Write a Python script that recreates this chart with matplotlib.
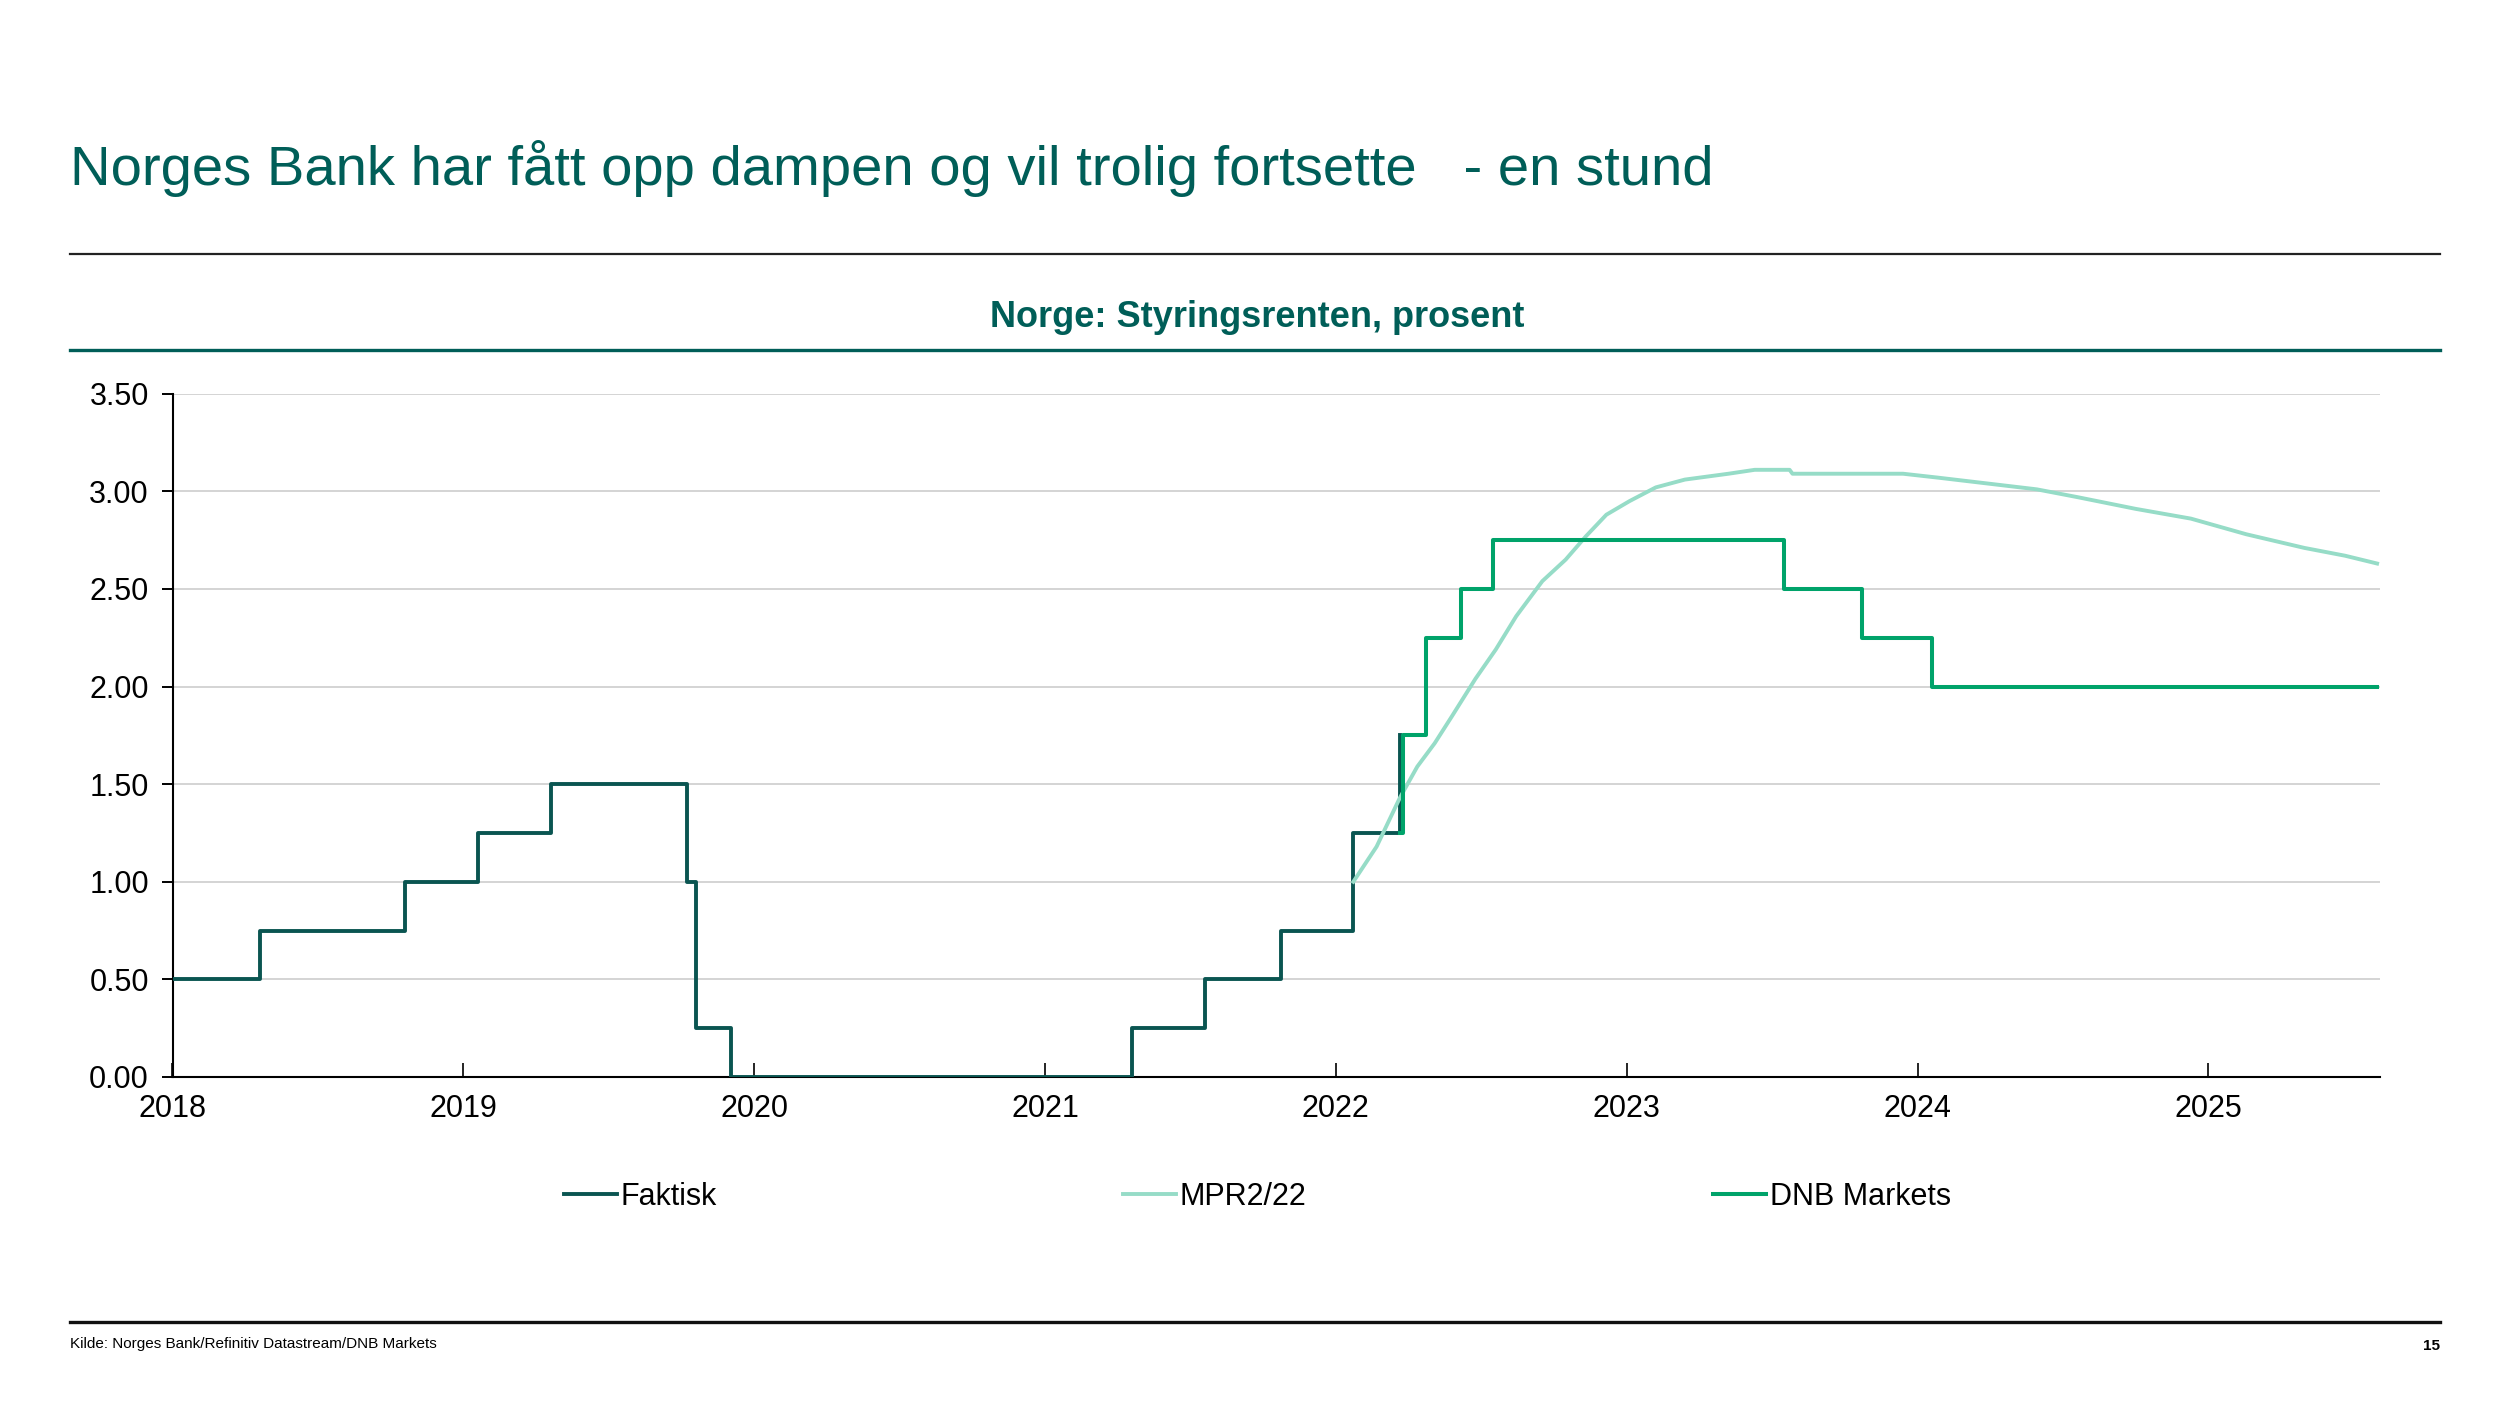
import matplotlib
matplotlib.use("Agg")
import matplotlib.pyplot as plt
from matplotlib.lines import Line2D
import numpy as np

plt.rcParams['font.family'] = ['Liberation Sans', 'DejaVu Sans']

# data (decimal years)
faktisk_dates = [2018.00, 2018.30, 2018.80, 2019.05, 2019.30, 2019.77, 2019.79, 2019.80,
                 2019.92, 2021.30, 2021.55, 2021.81, 2022.06, 2022.22]
faktisk_rate = [0.50, 0.75, 1.00, 1.25, 1.50, 1.00, 1.00, 0.25,
                0.00, 0.25, 0.50, 0.75, 1.25, 1.75]

mpr_dates = [2022.06, 2022.14, 2022.22, 2022.28, 2022.34, 2022.40, 2022.48, 2022.55,
             2022.62, 2022.71, 2022.79, 2022.86, 2022.93, 2023.01, 2023.10, 2023.20,
             2023.35, 2023.44, 2023.56, 2023.57, 2023.95, 2024.07, 2024.24, 2024.41,
             2024.55, 2024.75, 2024.94, 2025.13, 2025.33, 2025.47, 2025.58]
mpr_rate = [1.00, 1.18, 1.43, 1.59, 1.71, 1.85, 2.04, 2.19,
            2.36, 2.54, 2.65, 2.77, 2.88, 2.95, 3.02, 3.06,
            3.09, 3.11, 3.11, 3.09, 3.09, 3.07, 3.04, 3.01,
            2.97, 2.91, 2.86, 2.78, 2.71, 2.67, 2.63]

dnb_dates = [2022.22, 2022.23, 2022.31, 2022.43, 2022.54, 2023.54, 2023.81, 2024.05, 2025.58]
dnb_rate = [1.25, 1.75, 2.25, 2.50, 2.75, 2.50, 2.25, 2.00, 2.00]

years = [2018, 2019, 2020, 2021, 2022, 2023, 2024, 2025]
yticks = [0.0, 0.5, 1.0, 1.5, 2.0, 2.5, 3.0, 3.5]

teal = '#005E58'
c_faktisk = '#0A5551'
c_mpr = '#96DCC7'
c_dnb = '#00A36A'

fig = plt.figure(figsize=(25, 14.06), dpi=100)

fig.text(0.028, 0.880, 'Norges Bank har fått opp dampen og vil trolig fortsette   - en stund',
         fontsize=40.5, color=teal, va='center', ha='left')
fig.add_artist(Line2D([0.028, 0.976], [0.819, 0.819], color='#222222', lw=1.6,
                      transform=fig.transFigure))
fig.text(0.503, 0.774, 'Norge: Styringsrenten, prosent', fontsize=26, fontweight='bold',
         color=teal, va='center', ha='center')
fig.add_artist(Line2D([0.028, 0.976], [0.751, 0.751], color=teal, lw=2.4,
                      transform=fig.transFigure))
fig.add_artist(Line2D([0.028, 0.976], [0.060, 0.060], color='#111111', lw=2.4,
                      transform=fig.transFigure))
fig.text(0.028, 0.044, 'Kilde: Norges Bank/Refinitiv Datastream/DNB Markets', fontsize=11,
         color='black', va='center', ha='left')
fig.text(0.976, 0.043, '15', fontsize=11, fontweight='bold', color='black',
         va='center', ha='right')

ax = fig.add_axes([0.069, 0.234, 0.883, 0.486])
ax.plot(faktisk_dates, faktisk_rate, drawstyle='steps-post', color=c_faktisk, lw=2.8,
        label='Faktisk', zorder=3)
ax.plot(mpr_dates, mpr_rate, color=c_mpr, lw=2.8, label='MPR2/22', zorder=3)
ax.plot(dnb_dates, dnb_rate, drawstyle='steps-post', color=c_dnb, lw=2.9,
        label='DNB Markets', zorder=4)

ax.set_xlim(2018, 2025.59)
ax.set_ylim(0, 3.5)
ax.set_yticks(yticks)
ax.set_yticklabels([f'{v:.2f}' for v in yticks])
ax.set_xticks(years)
ax.set_xticklabels([str(y) for y in years])
ax.grid(axis='y', color='#D4D4D4', lw=1.4)
ax.set_axisbelow(True)
for s in ['top', 'right']:
    ax.spines[s].set_visible(False)
for s in ['left', 'bottom']:
    ax.spines[s].set_linewidth(1.5)
    ax.spines[s].set_color('black')
ax.tick_params(axis='y', direction='out', length=8, width=1.4, labelsize=22, pad=9)
ax.tick_params(axis='x', direction='in', length=10, width=1.2, labelsize=22, pad=12)

fig.legend(loc='center', bbox_to_anchor=(0.503, 0.149), ncol=3, frameon=False,
           fontsize=22, handlelength=1.73, handletextpad=0.12, columnspacing=13.3)

fig.savefig('out.png', dpi=100)
